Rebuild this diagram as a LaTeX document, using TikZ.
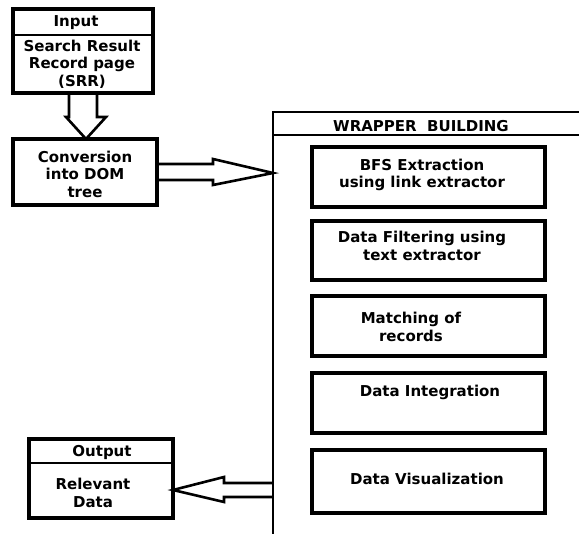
\documentclass[tikz,border=0pt]{standalone}
\usepackage{fontspec}
\setsansfont{DejaVu Sans}
\begin{document}
\begin{tikzpicture}[x=1pt,y=-1pt,
  bx/.style={draw, line width=3.2pt, anchor=north west, inner sep=0pt, outer sep=0pt},
  div/.style={line width=1.8pt},
  blk/.style={draw, line width=2.6pt, line join=miter},
  lbl/.style={font=\sffamily\bfseries\fontsize{15}{17.5}\selectfont, align=center, inner sep=0pt}]
\useasboundingbox (0,0) rectangle (579,534);
\clip (0,0) rectangle (579,534);
% left column boxes
\node[bx, minimum width=140pt, minimum height=84pt] (input) at (13,9) {};
\node[bx, minimum width=144pt, minimum height=66pt] (conv) at (13,139) {};
\node[bx, minimum width=144pt, minimum height=79pt] (output) at (29,439) {};
\draw[div] (input.west |- 0,35) -- (input.east |- 0,35);
\draw[div] (output.west |- 0,463) -- (output.east |- 0,463);
% wrapper
\node[bx, line width=2.8pt, minimum width=340pt, minimum height=440pt] (wrap) at (273,112) {};
\draw[div] (wrap.west |- 0,135) -- (579,135);
% inner boxes
\node[bx, minimum width=233pt, minimum height=60pt] (bfs) at (312,147) {};
\node[bx, minimum width=233pt, minimum height=59pt] (filt) at (312,221) {};
\node[bx, minimum width=233pt, minimum height=60pt] (match) at (312,296) {};
\node[bx, line width=3.6pt, minimum width=233pt, minimum height=60pt] (integ) at (312,373) {};
\node[bx, line width=3.4pt, minimum width=233pt, minimum height=63pt] (vis) at (312,450) {};
% texts
\node[lbl] (tin) at (76,23) {Input};
\node[lbl] (tsrr) at (82,64) {Search Result\\Record page\\(SRR)};
\node[lbl] (tconv) at (85,174) {Conversion\\into DOM\\tree};
\node[lbl] (twrap) at (421,126) {WRAPPER\ \ BUILDING};
\node[lbl] (tbfs) at (422,175) {BFS Extraction\\using link extractor};
\node[lbl] (tfilt) at (422,246) {Data Filtering using\\text extractor};
\node[lbl] (tmatch) at (411,327) {Matching of\\records};
\node[lbl] (tinteg) at (430,392) {Data Integration};
\node[lbl] (tvis) at (427,479) {Data Visualization};
\node[lbl] (tout) at (102,452) {Output};
\node[lbl] (trel) at (93,493) {Relevant\\Data};
% block arrows
\draw[blk] (input.south -| 69,0) -- (69,117) -- (66,117) -- (conv.north -| 86,0) -- (106,117) -- (97,117) -- (input.south -| 97,0);
\draw[blk] (conv.east |- 0,164) -- (213,164) -- (213,159) -- (wrap.west |- 0,173) -- (213,185) -- (213,180) -- (conv.east |- 0,180);
\draw[blk] (wrap.west |- 0,483) -- (224,483) -- (224,477) -- (output.east |- 0,490) -- (224,502) -- (224,497) -- (wrap.west |- 0,497);
\end{tikzpicture}
\end{document}
